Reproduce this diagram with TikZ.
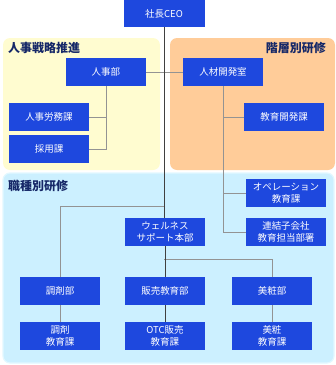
\documentclass[tikz,border=0pt]{standalone}
\usepackage{fontspec}
\setmainfont{Noto Sans CJK JP}
\usepackage{tikz}
\definecolor{boxblue}{RGB}{30,72,222}
\definecolor{paneyellow}{RGB}{255,252,208}
\definecolor{paneorange}{RGB}{255,204,153}
\definecolor{paneblue}{RGB}{204,240,255}
\definecolor{paneedge}{RGB}{226,248,255}
\definecolor{titlenavy}{RGB}{22,40,104}

\begin{document}
\begin{tikzpicture}[x=1pt, y=-1pt,
  unit/.style={draw=none, fill=boxblue, text=white, minimum width=80pt, minimum height=28pt,
    inner sep=1pt, align=center, font=\fontsize{9.5}{12}\selectfont},
  pane/.style={rounded corners=7pt},
  panetitle/.style={text=titlenavy, font=\fontsize{12}{14}\selectfont\bfseries, inner sep=0pt},
  link/.style={draw=gray!85, line width=0.8pt},
  trunk/.style={draw=black!75, line width=1pt}]

\useasboundingbox (0,0) rectangle (336,365);

% ---------- panels ----------
\fill[pane, paneyellow] (3,38) rectangle (160,170);
\fill[pane, paneorange] (170,38) rectangle (335,170);
\filldraw[pane, fill=paneblue, draw=paneedge, line width=1.2pt] (3,173) rectangle (334,363);

\node[panetitle, anchor=west] (tjinji) at (8,48) {人事戦略推進};
\node[panetitle, anchor=east] (tkaiso) at (326,48) {階層別研修};
\node[panetitle, anchor=west] (tshoku) at (8,186) {職種別研修};

% ---------- units ----------
\node[unit, minimum width=81pt, minimum height=27pt] (ceo) at (164,13.5) {社長CEO};

\node[unit] (jinjibu) at (106,72) {人事部};
\node[unit] (romu)    at (49,117) {人事労務課};
\node[unit] (saiyo)   at (49,149) {採用課};

\node[unit] (jinzai)   at (223,72)  {人材開発室};
\node[unit] (kaihatsu) at (284,117) {教育開発課};
\node[unit] (ope)      at (286,193) {オペレーション\\教育課};
\node[unit] (renketsu) at (286,232) {連結子会社\\教育担当部署};

\node[unit] (wellness) at (165,232) {ウェルネス\\サポート本部};
\node[unit] (chozai)   at (60,291)  {調剤部};
\node[unit] (hanbai)   at (165,291) {販売教育部};
\node[unit] (bisho)    at (272,291) {美粧部};
\node[unit] (chozaik)  at (60,336)  {調剤\\教育課};
\node[unit] (otc)      at (165,336) {OTC販売\\教育課};
\node[unit] (bishok)   at (272,336) {美粧\\教育課};

% ---------- connectors ----------
\coordinate (jleft)  at (164,206);
\coordinate (jright) at (164,259);

\draw[link] (jinjibu.east) -- (jinzai.west);
\draw[link] (jinjibu.south) |- (saiyo.east);
\draw[link] (jinjibu.south |- romu.east) -- (romu.east);

\draw[link] (jinzai.south) |- (renketsu.west);
\draw[link] (jinzai.south |- kaihatsu.west) -- (kaihatsu.west);
\draw[link] (jinzai.south |- ope.west) -- (ope.west);

\draw[link] (jleft) -| (chozai.north);
\draw[link] (jright) -| (bisho.north);
\draw[link] (chozai.south) -- (chozaik.north);
\draw[link] (bisho.south) -- (bishok.north);

\draw[trunk] (ceo.south) -- (ceo.south |- wellness.north);
\draw[trunk] (wellness.south) -- (hanbai.north);
\draw[trunk] (hanbai.south) -- (otc.north);

\end{tikzpicture}
\end{document}
